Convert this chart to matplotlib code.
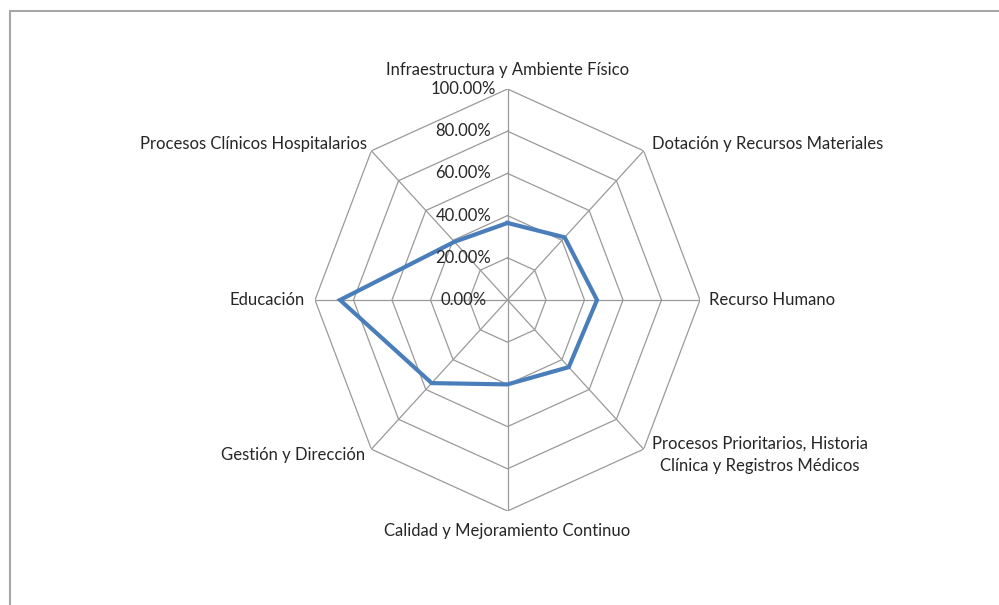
import numpy as np
import matplotlib
matplotlib.use("Agg")
import matplotlib.pyplot as plt
from matplotlib.patches import Rectangle

# categories clockwise from the top
categories = [
    "Infraestructura y Ambiente Físico",
    "Dotación y Recursos Materiales",
    "Recurso Humano",
    "Procesos Prioritarios, Historia\nClínica y Registros Médicos",
    "Calidad y Mejoramiento Continuo",
    "Gestión y Dirección",
    "Educación",
    "Procesos Clínicos Hospitalarios",
]
values = [0.365, 0.42, 0.465, 0.45, 0.40, 0.557, 0.87, 0.39]
ring_levels = [0.0, 0.2, 0.4, 0.6, 0.8, 1.0]
ring_labels = ["0.00%", "20.00%", "40.00%", "60.00%", "80.00%", "100.00%"]

# label placement (offset in pixels, alignment)
label_style = [
    ((0, 11), "center", "bottom"),
    ((8, -1), "left", "bottom"),
    ((9, 0), "left", "center"),
    ((8, -6), "left", "center"),
    ((0, -12), "center", "top"),
    ((-6, -6), "right", "center"),
    ((-10, 0), "right", "center"),
    ((-4, 7), "right", "center"),
]

plt.rcParams['font.family'] = ['Lato', 'DejaVu Sans']
text_color = '#262626'
grid_color = '#9a9a9a'

n = len(categories)
angles = np.linspace(0, 2 * np.pi, n, endpoint=False)

fig = plt.figure(figsize=(9.99, 6.05), dpi=100)
fig.patches.append(Rectangle((10 / 999, -0.1), 1.2, 1 - 11 / 605 + 0.1,
                             transform=fig.transFigure, fill=False,
                             edgecolor='#a6a6a6', linewidth=1.5))

ax = fig.add_axes([315 / 999, 1 - 511 / 605, 385 / 999, 422 / 605], projection='polar')
ax.set_theta_offset(np.pi / 2)
ax.set_theta_direction(-1)
ax.set_aspect('auto')
ax.set_ylim(0, 1)
ax.grid(False)
ax.spines['polar'].set_visible(False)
ax.set_xticks([])
ax.set_yticks([])
ax.patch.set_alpha(0)

closed = np.append(angles, angles[0])

# octagon rings
for lvl in ring_levels[1:]:
    ax.plot(closed, [lvl] * (n + 1), color=grid_color, lw=0.9, zorder=1)
# spokes
for a in angles:
    ax.plot([a, a], [0, 1], color=grid_color, lw=0.9, zorder=1)

# data series
ax.plot(closed, values + values[:1], color='#4a7ebb', lw=3.0, zorder=3,
        solid_joinstyle='miter')

# ring labels on the top spoke
for lvl, lab in zip(ring_levels, ring_labels):
    ax.annotate(lab, xy=(0, lvl), xytext=(-44, 0), textcoords='offset pixels',
                ha='center', va='center', fontsize=12, color=text_color, zorder=4)

# category labels
for a, cat, (off, ha, va) in zip(angles, categories, label_style):
    ax.annotate(cat, xy=(a, 1.0), xytext=off, textcoords='offset pixels',
                ha=ha, va=va, multialignment='center', fontsize=12,
                color=text_color, linespacing=1.5)

fig.savefig("out.png", dpi=100, facecolor='white')
